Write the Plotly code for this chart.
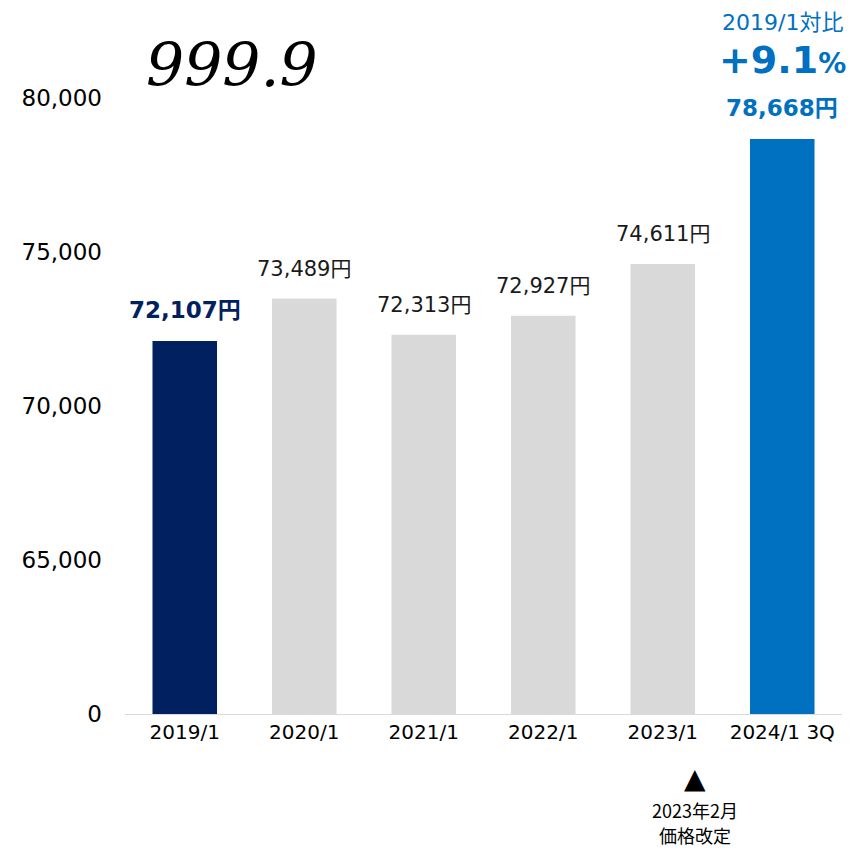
import plotly.graph_objects as go

categories = ["2019/1", "2020/1", "2021/1", "2022/1", "2023/1", "2024/1 3Q"]
values = [72107, 73489, 72313, 72927, 74611, 78668]
colors = ["#002060", "#D9D9D9", "#D9D9D9", "#D9D9D9", "#D9D9D9", "#0070C0"]
tick_vals = [60000, 65000, 70000, 75000, 80000]
tick_text = ["0", "65,000", "70,000", "75,000", "80,000"]
axis_base = 60000

xs = list(range(len(categories)))
FONT = "DejaVu Sans, Noto Sans CJK JP"

fig = go.Figure()
fig.add_trace(go.Bar(
    x=xs, y=[v - axis_base for v in values], base=axis_base,
    marker=dict(color=colors, line=dict(width=0)),
    width=0.54, hoverinfo="skip", showlegend=False,
))

annotations = []
for i, v in enumerate(values):
    txt = f"{v:,}円"
    if i == 0:
        font = dict(family=FONT, size=23, color="#002060")
        txt = f"<b>{txt}</b>"
    elif i == len(values) - 1:
        font = dict(family=FONT, size=23, color="#0070C0")
        txt = f"<b>{txt}</b>"
    else:
        font = dict(family=FONT, size=21, color="#1a1a1a")
    annotations.append(dict(x=i, y=v, xref="x", yref="y", text=txt, showarrow=False,
                            xanchor="center", yanchor="bottom", yshift=16, font=font))

# comparison header above last bar
annotations.append(dict(x=5, y=values[-1], xref="x", yref="y", text="2019/1対比",
                        showarrow=False, xanchor="center", yanchor="bottom", yshift=102,
                        font=dict(family=FONT, size=22, color="#0070C0")))
pct = (values[-1] / values[0] - 1) * 100
annotations.append(dict(x=5, y=values[-1], xref="x", yref="y",
                        text=f"<b>+{pct:.1f}</b><b><span style='font-size:28px'>%</span></b>",
                        showarrow=False, xanchor="center", yanchor="bottom", yshift=55,
                        font=dict(family=FONT, size=38, color="#0070C0")))

# price revision note
annotations.append(dict(x=4.27, y=0, xref="x", yref="paper", text="▲", showarrow=False,
                        xanchor="center", yanchor="middle", yshift=-64,
                        font=dict(family=FONT, size=28, color="#000000")))
annotations.append(dict(x=4.27, y=0, xref="x", yref="paper", text="2023年2月",
                        showarrow=False, xanchor="center", yanchor="middle", yshift=-96,
                        font=dict(family="Noto Sans CJK JP", size=18, color="#000000")))
annotations.append(dict(x=4.27, y=0, xref="x", yref="paper", text="価格改定",
                        showarrow=False, xanchor="center", yanchor="middle", yshift=-121,
                        font=dict(family="Noto Sans CJK JP", size=18, color="#000000")))

# logo
annotations.append(dict(x=0.149, y=1.054, xref="paper", yref="paper", text="<i>999.9</i>",
                        showarrow=False, xanchor="center", yanchor="middle",
                        font=dict(family="DejaVu Serif", size=60, color="#000000")))

fig.update_layout(
    width=856, height=851,
    margin=dict(l=125, r=14, t=98, b=137),
    paper_bgcolor="white", plot_bgcolor="white",
    annotations=annotations,
    xaxis=dict(range=[-0.5, 5.5], tickvals=xs, ticktext=categories, showgrid=False,
               showline=True, linecolor="#D9D9D9", linewidth=1, ticks="", zeroline=False,
               tickfont=dict(family=FONT, size=20, color="#000000"), fixedrange=True),
    yaxis=dict(range=[axis_base, 80000], tickvals=tick_vals, ticktext=tick_text, showgrid=False,
               showline=False, zeroline=False, ticks="", ticklabelstandoff=22,
               tickfont=dict(family=FONT, size=23, color="#000000"), fixedrange=True),
)

fig.write_html("out.html")
